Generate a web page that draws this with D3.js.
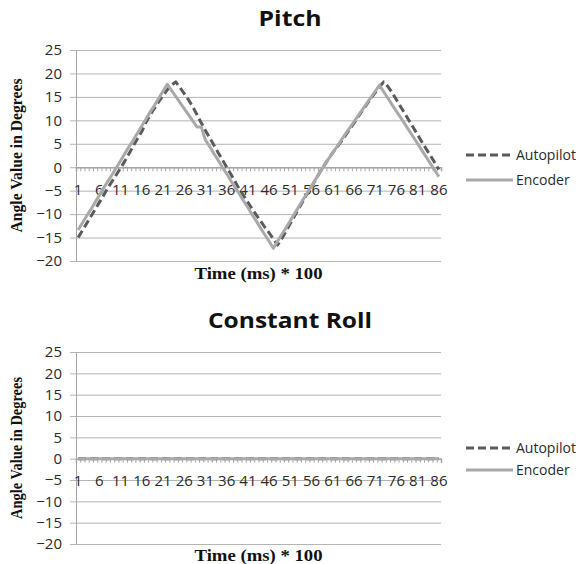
<!DOCTYPE html>
<html>
<head>
<meta charset="utf-8">
<script src="https://cdn.jsdelivr.net/npm/d3@7"></script>
<style>
  html, body { margin: 0; padding: 0; background: #ffffff; }
  svg { display: block; }
</style>
</head>
<body>
<svg id="chart" width="583" height="564"></svg>
<script>
// Sample index along the time axis (one sample per 100 ms)
const categories = [1,2,3,4,5,6,7,8,9,10,11,12,13,14,15,16,17,18,19,20,21,22,23,24,25,26,27,28,29,30,
  31,32,33,34,35,36,37,38,39,40,41,42,43,44,45,46,47,48,49,50,51,52,53,54,55,56,57,58,59,60,
  61,62,63,64,65,66,67,68,69,70,71,72,73,74,75,76,77,78,79,80,81,82,83,84,85,86];

// Labels shown on the category axis
const xTickLabels = [1,6,11,16,21,26,31,36,41,46,51,56,61,66,71,76,81,86];

// Value axis ticks (degrees)
const yTicks = [-20,-15,-10,-5,0,5,10,15,20,25];

const seriesNames = ["Autopilot", "Encoder"];

// Pitch: commanded angle from the autopilot
const pitchAutopilot = [-15.0,-13.5,-12.0,-10.5,-9.0,-7.5,-6.0,-4.4,-3.0,-1.6,
  -0.2,1.3,2.9,4.5,6.1,7.6,9.6,11.2,12.6,14.0,
  15.3,16.5,17.5,18.2,17.0,15.7,14.4,12.9,11.2,9.5,
  7.8,6.3,4.7,3.1,1.6,0.0,-1.5,-3.1,-4.7,-6.1,
  -7.5,-8.9,-10.2,-11.5,-12.8,-14.0,-15.3,-16.6,-15.2,-13.6,
  -12.0,-10.4,-8.8,-7.2,-5.6,-4.1,-2.6,-1.0,0.4,1.8,
  3.1,4.3,5.5,6.8,8.1,9.4,10.8,12.1,13.4,14.7,
  15.9,17.1,18.2,17.2,15.9,14.4,12.9,11.4,9.9,8.4,
  6.9,5.4,3.9,2.5,1.0,-0.5];

// Pitch: angle measured by the encoder
const pitchEncoder = [-13.4,-11.9,-10.4,-9.0,-7.5,-6.0,-4.5,-3.0,-1.6,-0.1,
  1.4,2.9,4.4,5.8,7.3,8.8,10.3,11.8,13.2,14.7,
  16.2,17.7,16.4,15.1,13.8,12.5,11.2,9.9,8.6,8.6,
  5.8,4.4,2.9,1.5,0.0,-1.4,-2.9,-4.3,-5.7,-7.2,
  -8.6,-10.1,-11.5,-13.0,-14.4,-15.8,-17.3,-15.8,-14.3,-12.9,
  -11.4,-9.9,-8.4,-6.9,-5.5,-4.0,-2.5,-1.0,0.4,1.8,
  3.1,4.4,5.8,7.1,8.4,9.7,11.0,12.3,13.6,14.9,
  16.2,17.5,16.1,14.7,13.3,11.9,10.6,9.2,7.8,6.4,
  5.0,3.6,2.2,0.8,-0.6,-2.0];

// Roll held constant: both series stay level
const rollAutopilot = [0,0,0,0,0,0,0,0,0,0,0,0,0,0,0,0,0,0,0,0,0,0,0,0,0,0,0,0,0,0,
  0,0,0,0,0,0,0,0,0,0,0,0,0,0,0,0,0,0,0,0,0,0,0,0,0,0,0,0,0,0,
  0,0,0,0,0,0,0,0,0,0,0,0,0,0,0,0,0,0,0,0,0,0,0,0,0,0];
const rollEncoder = [0,0,0,0,0,0,0,0,0,0,0,0,0,0,0,0,0,0,0,0,0,0,0,0,0,0,0,0,0,0,
  0,0,0,0,0,0,0,0,0,0,0,0,0,0,0,0,0,0,0,0,0,0,0,0,0,0,0,0,0,0,
  0,0,0,0,0,0,0,0,0,0,0,0,0,0,0,0,0,0,0,0,0,0,0,0,0,0];

const svg = d3.select("#chart");

const SANS = "'Open Sans', 'Noto Sans', sans-serif";
const SERIF = "'Liberation Serif', 'Times New Roman', serif";
const GRID = "#b4b4b4";
const AXIS = "#a6a6a6";
const TEXT = "#2b2b2b";
const AUTO_COLOR = "#5b5b5b";
const ENC_COLOR = "#a9a9a9";

function drawPanel(cfg) {
  const g = svg.append("g");

  const x = d3.scaleBand().domain(categories).range([cfg.left, cfg.right]).paddingInner(0).paddingOuter(0);
  const xEdge = d3.scaleLinear().domain([0, categories.length]).range([cfg.left, cfg.right]);
  const y = d3.scaleLinear().domain([-20, 25]).range([cfg.bottom, cfg.top]);
  const cx = c => x(c) + x.bandwidth() / 2;

  // Horizontal gridlines with short outside tick marks
  const grid = g.append("g")
    .attr("transform", `translate(${cfg.right},0)`)
    .call(d3.axisLeft(y).tickValues(yTicks).tickSize(cfg.right - cfg.left + 6).tickFormat(""));
  grid.select(".domain").remove();
  grid.selectAll(".tick line").attr("stroke", GRID).attr("stroke-width", 1);

  // Value axis labels
  const yAxis = g.append("g")
    .attr("transform", `translate(${cfg.left},0)`)
    .call(d3.axisLeft(y).tickValues(yTicks).tickSize(0).tickPadding(14));
  yAxis.select(".domain").attr("stroke", AXIS);
  yAxis.selectAll("text")
    .attr("font-family", SANS).attr("font-size", cfg.tickFont).attr("fill", TEXT);

  // Category axis along zero, tick marks between categories
  const xTicks = g.append("g")
    .attr("transform", `translate(0,${y(0)})`)
    .call(d3.axisBottom(xEdge).tickValues(d3.range(0, categories.length + 1)).tickSize(4).tickFormat(""));
  xTicks.select(".domain").attr("stroke", AXIS).attr("stroke-width", 1.5);
  xTicks.selectAll(".tick line").attr("stroke", AXIS);

  const xLabels = g.append("g")
    .attr("transform", `translate(0,${y(0)})`)
    .call(d3.axisBottom(x).tickValues(xTickLabels).tickSize(0).tickPadding(cfg.xLabelPad));
  xLabels.select(".domain").remove();
  xLabels.selectAll("text")
    .attr("font-family", SANS).attr("font-size", cfg.tickFont).attr("fill", TEXT);

  // Series lines
  const line = d3.line().x((d, i) => cx(categories[i])).y(d => y(d));
  g.append("path").datum(cfg.auto)
    .attr("fill", "none").attr("stroke", AUTO_COLOR).attr("stroke-width", 3)
    .attr("stroke-dasharray", "8,4").attr("stroke-linejoin", "round")
    .attr("d", line);
  g.append("path").datum(cfg.enc)
    .attr("fill", "none").attr("stroke", ENC_COLOR).attr("stroke-width", 3)
    .attr("stroke-linejoin", "round")
    .attr("d", line);

  // Titles
  g.append("text")
    .attr("x", cfg.titleX).attr("y", cfg.titleY)
    .attr("text-anchor", "middle")
    .attr("font-family", SANS).attr("font-weight", "bold").attr("font-size", 22)
    .attr("fill", "#111")
    .attr("textLength", cfg.titleLen).attr("lengthAdjust", "spacingAndGlyphs")
    .text(cfg.title);

  g.append("text")
    .attr("x", (cfg.left + cfg.right) / 2).attr("y", cfg.xTitleY)
    .attr("text-anchor", "middle")
    .attr("font-family", SERIF).attr("font-weight", "bold").attr("font-size", 17)
    .attr("fill", "#111")
    .attr("textLength", 128).attr("lengthAdjust", "spacingAndGlyphs")
    .text("Time (ms) * 100");

  const yMid = (cfg.top + cfg.bottom) / 2;
  g.append("text")
    .attr("transform", `translate(${cfg.yTitleX},${yMid}) rotate(-90)`)
    .attr("text-anchor", "middle")
    .attr("font-family", SERIF).attr("font-weight", "bold").attr("font-size", 17)
    .attr("fill", "#111")
    .attr("textLength", cfg.yTitleLen).attr("lengthAdjust", "spacingAndGlyphs")
    .text("Angle Value in Degrees");

  // Legend
  const legend = g.append("g");
  seriesNames.forEach((name, i) => {
    const ly = cfg.legendY[i];
    legend.append("line")
      .attr("x1", 466).attr("x2", 513).attr("y1", ly).attr("y2", ly)
      .attr("stroke", i === 0 ? AUTO_COLOR : ENC_COLOR).attr("stroke-width", 3)
      .attr("stroke-dasharray", i === 0 ? "8,4" : null);
    legend.append("text")
      .attr("x", 516).attr("y", ly).attr("dy", "0.35em")
      .attr("font-family", SANS).attr("font-size", 14).attr("fill", TEXT)
      .text(name);
  });
}

drawPanel({
  title: "Pitch", titleX: 290, titleY: 26, titleLen: 63,
  left: 76, right: 441, top: 50, bottom: 261,
  xLabelPad: 17, xTitleY: 279, yTitleX: 22, yTitleLen: 154,
  tickFont: 15, legendY: [155, 180],
  auto: pitchAutopilot, enc: pitchEncoder
});

drawPanel({
  title: "Constant Roll", titleX: 290, titleY: 328, titleLen: 164,
  left: 76, right: 441, top: 352, bottom: 544,
  xLabelPad: 17, xTitleY: 561, yTitleX: 22, yTitleLen: 142,
  tickFont: 15, legendY: [448, 470],
  auto: rollAutopilot, enc: rollEncoder
});
</script>
</body>
</html>
